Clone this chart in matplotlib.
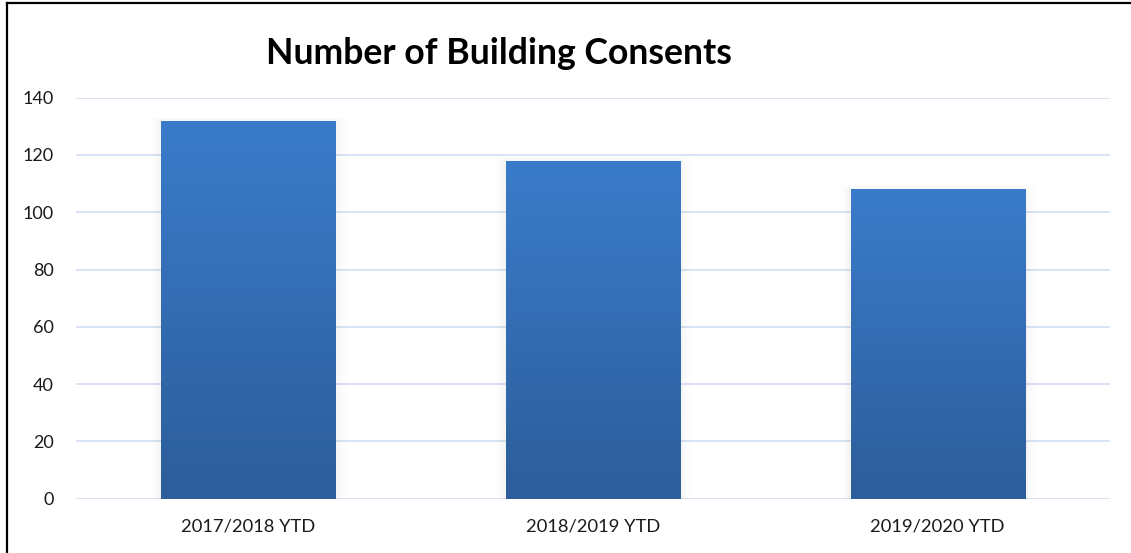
import numpy as np
import matplotlib
matplotlib.use("Agg")
import matplotlib.pyplot as plt
from matplotlib.lines import Line2D
from matplotlib.colors import LinearSegmentedColormap

categories = ["2017/2018 YTD", "2018/2019 YTD", "2019/2020 YTD"]
consents = [132, 118, 108]
y_ticks = [0, 20, 40, 60, 80, 100, 120, 140]

plt.rcParams["font.family"] = ["Lato", "DejaVu Sans"]

W, H = 1131, 553
fig = plt.figure(figsize=(W / 100, H / 100), dpi=100)
fig.patch.set_facecolor("white")

ax = fig.add_axes([76 / W, 1 - 498.7 / H, (1110 - 76) / W, (498.7 - 97.7) / H])
ax.set_xlim(-0.5, len(categories) - 0.5)
ax.set_ylim(y_ticks[0], y_ticks[-1])

# horizontal gridlines
for t in y_ticks:
    ax.axhline(t, color="#D6E1F2", lw=1.3, zorder=1)

x = np.arange(len(categories))
bars = ax.bar(x, consents, width=0.505, color="none", edgecolor="none", zorder=3)

grad_cmap = LinearSegmentedColormap.from_list("bar_grad", ["#2D5D9A", "#3A7CCA"])
grad = np.linspace(0, 1, 256).reshape(-1, 1)

for b in bars:
    x0, y0 = b.get_x(), b.get_y()
    w, h = b.get_width(), b.get_height()
    # faint shadow around each bar
    for k, a in zip([0.03, 0.02, 0.01], [0.015, 0.025, 0.04]):
        ax.add_patch(plt.Rectangle((x0 - k, y0), w + 2 * k, h + k * 40,
                                   facecolor="#808080", alpha=a,
                                   edgecolor="none", zorder=2))
    im = ax.imshow(grad, extent=(x0, x0 + w, y0, y0 + h), origin="lower",
                   cmap=grad_cmap, aspect="auto", zorder=3,
                   interpolation="bicubic")
    im.set_clip_path(b)

ax.set_xlim(-0.5, len(categories) - 0.5)
ax.set_ylim(y_ticks[0], y_ticks[-1])
ax.set_xticks(x)
ax.set_xticklabels(categories, fontsize=13.2, color="#1a1a1a")
ax.set_yticks(y_ticks)
ax.set_yticklabels([str(t) for t in y_ticks], fontsize=13, color="#1a1a1a")
ax.tick_params(axis="both", length=0)
ax.tick_params(axis="y", pad=16)
ax.tick_params(axis="x", pad=14)
for s in ax.spines.values():
    s.set_visible(False)

fig.text(499 / W, 1 - 53 / H, "Number of Building Consents",
         ha="center", va="center", fontsize=25.7, fontweight="bold", color="black")

# frame lines along top and left edges
fig.add_artist(Line2D([6.5 / W, 1.0], [1 - 2.5 / H, 1 - 2.5 / H],
                      transform=fig.transFigure, color="black", lw=1.6))
fig.add_artist(Line2D([6.5 / W, 6.5 / W], [0.0, 1 - 2.5 / H],
                      transform=fig.transFigure, color="black", lw=1.6))

fig.savefig("out.png", dpi=100, facecolor="white")
